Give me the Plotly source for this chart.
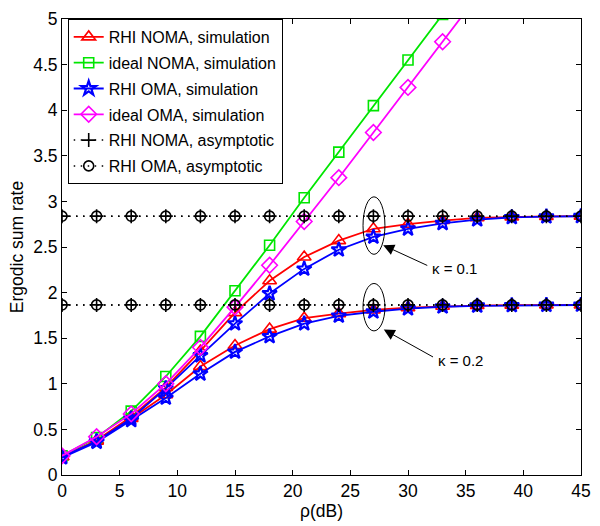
import plotly.graph_objects as go

# SNR grid (dB)
rho_db = [0, 3, 6, 9, 12, 15, 18, 21, 24, 27, 30, 33, 36, 39, 42, 45]

# RHI NOMA, simulation (kappa = 0.1 and 0.2)
rhi_noma_k01 = [0.20, 0.38, 0.64, 0.96, 1.36, 1.78, 2.13, 2.39, 2.57, 2.70, 2.75, 2.79, 2.82, 2.83, 2.835, 2.838]
rhi_noma_k02 = [0.20, 0.37, 0.62, 0.88, 1.19, 1.42, 1.60, 1.72, 1.77, 1.81, 1.835, 1.85, 1.858, 1.862, 1.864, 1.865]

# RHI OMA, simulation (kappa = 0.1 and 0.2)
rhi_oma_k01 = [0.20, 0.37, 0.62, 0.95, 1.31, 1.66, 1.99, 2.26, 2.47, 2.61, 2.70, 2.76, 2.80, 2.825, 2.833, 2.837]
rhi_oma_k02 = [0.19, 0.36, 0.60, 0.845, 1.11, 1.35, 1.52, 1.66, 1.745, 1.79, 1.825, 1.845, 1.855, 1.86, 1.863, 1.864]

# Ideal hardware curves (grow without bound)
ideal_noma = [0.21, 0.41, 0.70, 1.08, 1.52, 2.02, 2.52, 3.04, 3.54, 4.05, 4.55, 5.05]
ideal_oma = [0.21, 0.42, 0.67, 1.00, 1.40, 1.84, 2.30, 2.78, 3.26, 3.755, 4.25, 4.75, 5.25]

# High-SNR ceilings
asym_k01 = 2.838
asym_k02 = 1.865

FONT = "Liberation Sans, Arial, sans-serif"
TICK_SIZE = 17.5
LEGEND_SIZE = 16


def two_branches(x, a, b):
    """Join two curves in one trace, separated by a gap."""
    return list(x) + [None] + list(x), list(a) + [None] + list(b)


fig = go.Figure()

xs, ys = two_branches(rho_db, rhi_noma_k01, rhi_noma_k02)
fig.add_trace(go.Scatter(
    x=xs, y=ys, mode="lines+markers", name="RHI NOMA, simulation",
    line=dict(color="#ff0000", width=1.8),
    marker=dict(symbol="triangle-up-open", size=12, color="#ff0000", line=dict(width=1.6)),
    legendgroup="a"))

fig.add_trace(go.Scatter(
    x=rho_db[:len(ideal_noma)], y=ideal_noma, mode="lines+markers", name="ideal NOMA, simulation",
    line=dict(color="#00e600", width=1.8),
    marker=dict(symbol="square-open", size=10, color="#00e600", line=dict(width=1.6)),
    legendgroup="b"))

xs, ys = two_branches(rho_db, rhi_oma_k01, rhi_oma_k02)
fig.add_trace(go.Scatter(
    x=xs, y=ys, mode="lines+markers", name="RHI OMA, simulation",
    line=dict(color="#0000ff", width=1.8),
    marker=dict(symbol="star-open", size=11, color="#0000ff", line=dict(width=2.2)),
    legendgroup="c"))

fig.add_trace(go.Scatter(
    x=rho_db[:len(ideal_oma)], y=ideal_oma, mode="lines+markers", name="ideal OMA, simulation",
    line=dict(color="#ff00ff", width=1.8),
    marker=dict(symbol="diamond-open", size=12, color="#ff00ff", line=dict(width=1.6)),
    legendgroup="d"))

xs, ys = two_branches(rho_db, [asym_k01] * len(rho_db), [asym_k02] * len(rho_db))
fig.add_trace(go.Scatter(
    x=xs, y=ys, mode="lines+markers", name="RHI NOMA, asymptotic",
    line=dict(color="black", width=1.5, dash="1.5px,5.5px"),
    marker=dict(symbol="cross-thin-open", size=10, color="black", line=dict(width=1.6)),
    legendgroup="e"))
fig.add_trace(go.Scatter(
    x=xs, y=ys, mode="lines+markers", name="RHI OMA, asymptotic",
    line=dict(color="black", width=1.5, dash="1.5px,5.5px"),
    marker=dict(symbol="circle-open", size=10, color="black", line=dict(width=1.6)),
    legendgroup="f"))

# Ellipses highlighting the kappa curves at 27 dB
fig.add_shape(type="circle", xref="x", yref="y", x0=26.1, x1=28.0, y0=2.42, y1=3.05,
              line=dict(color="black", width=1))
fig.add_shape(type="circle", xref="x", yref="y", x0=26.1, x1=28.0, y0=1.58, y1=2.10,
              line=dict(color="black", width=1))

# Arrows and labels
for (tip_x, tip_y, tail_x, tail_y, label) in [
    (27.85, 2.52, 31.8, 2.29, "κ = 0.1"),
    (27.9, 1.595, 32.3, 1.285, "κ = 0.2"),
]:
    fig.add_annotation(x=tip_x, y=tip_y, ax=tail_x, ay=tail_y, xref="x", yref="y",
                       axref="x", ayref="y", text="", showarrow=True,
                       arrowhead=2, arrowsize=2.2, arrowwidth=1, arrowcolor="black")
    fig.add_annotation(x=tail_x + 0.1, y=tail_y - 0.03, xref="x", yref="y", text=label,
                       showarrow=False, xanchor="left", yanchor="middle",
                       font=dict(family=FONT, size=15, color="black"))

axis_common = dict(
    showgrid=False, zeroline=False, showline=True, linecolor="black", linewidth=1,
    mirror="ticks", ticks="inside", ticklen=5, tickcolor="black", tickwidth=1,
    tickfont=dict(family=FONT, size=TICK_SIZE, color="black"),
    ticklabeloverflow="allow",
)

fig.update_xaxes(range=[0, 45], dtick=5, tick0=0,
                 title=dict(text="ρ(dB)", font=dict(family=FONT, size=TICK_SIZE, color="black"), standoff=4),
                 **axis_common)
fig.update_yaxes(range=[0, 5], dtick=0.5, tick0=0,
                 title=dict(text="Ergodic sum rate", font=dict(family=FONT, size=TICK_SIZE, color="black"), standoff=5),
                 **axis_common)

fig.update_layout(
    width=600, height=526,
    margin=dict(l=62, r=9, t=16, b=48),
    paper_bgcolor="white", plot_bgcolor="white",
    font=dict(family=FONT, size=TICK_SIZE, color="black"),
    legend=dict(
        x=0.011, y=1.0, xanchor="left", yanchor="top",
        bgcolor="white", bordercolor="black", borderwidth=1,
        font=dict(family=FONT, size=LEGEND_SIZE, color="black"),
        traceorder="grouped", tracegroupgap=2,
    ),
    showlegend=True,
)

fig.write_html("out.html")
